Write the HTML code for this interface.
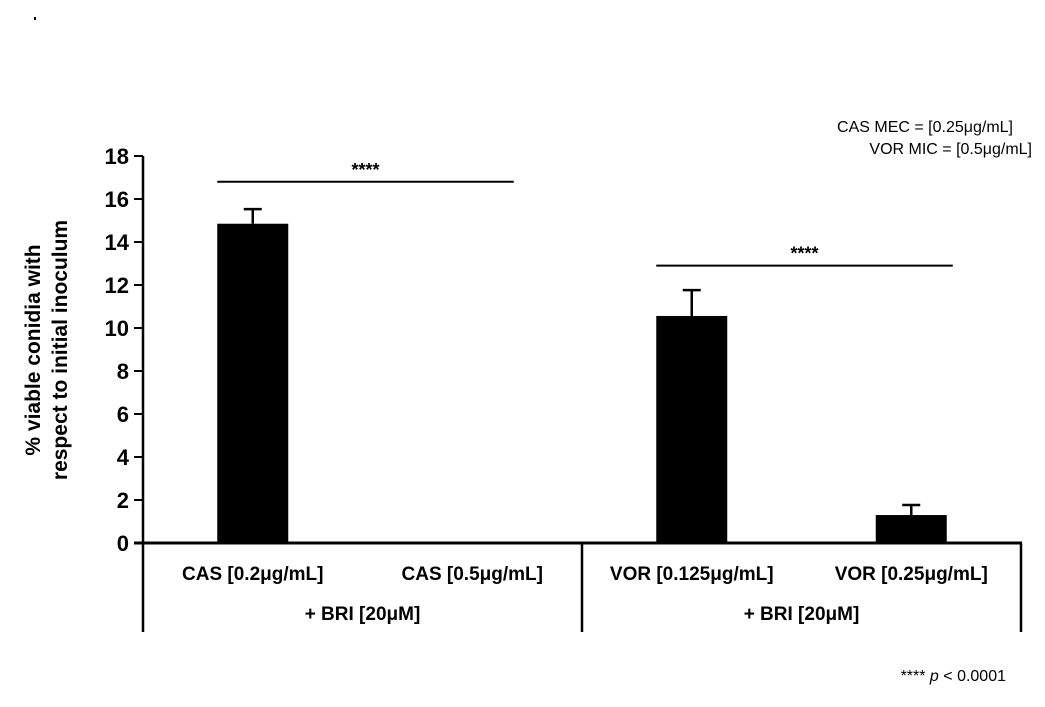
<!DOCTYPE html>
<html><head><meta charset="utf-8"><style>
body{margin:0;background:#fff;}
svg text{font-family:"Liberation Sans",Arial,sans-serif;}
</style></head><body>
<svg id="chart" width="1045" height="702" viewBox="0 0 1045 702" xmlns="http://www.w3.org/2000/svg">
<rect x="34" y="17" width="2" height="3" fill="#000"/>
<g id="axes"></g>
<g id="bars"></g>
<text x="-350" y="40" transform="rotate(-90)" text-anchor="middle" font-size="21" font-weight="bold"><tspan x="-350" dy="0">% viable conidia with</tspan><tspan x="-350" dy="27">respect to initial inoculum</tspan></text>
<text x="1013" y="132" text-anchor="end" font-size="16">CAS MEC = [0.25μg/mL]</text>
<text x="1032" y="154" text-anchor="end" font-size="16">VOR MIC = [0.5μg/mL]</text>
<text x="1006" y="681" text-anchor="end" font-size="16">**** <tspan font-style="italic">p</tspan> &lt; 0.0001</text>
</svg>
<script>
const categories=["CAS [0.2μg/mL]","CAS [0.5μg/mL]","VOR [0.125μg/mL]","VOR [0.25μg/mL]"];
const values=[14.85,0,10.56,1.3];
const errors=[0.68,0,1.2,0.47];
const groups=["+ BRI [20μM]","+ BRI [20μM]"];
const yTicks=[0,2,4,6,8,10,12,14,16,18];
const sigPairs=[[0,1],[2,3]];
const sigY=[16.8,12.9];
const NS="http://www.w3.org/2000/svg";
const x0=143,x1=1021,y0=543,yTop=156,yMax=18;
const slot=(x1-x0)/categories.length;
const bw=71;
function y(v){return y0-(v/yMax)*(y0-yTop);}
function cx(i){return x0+slot*(i+0.5);}
function mk(parent,tag,attrs,name){const e=document.createElementNS(NS,tag);for(const k in attrs)e.setAttribute(k,attrs[k]);


document.getElementById(parent).appendChild(e);return e;}
mk('axes','line',{x1:x0,x2:x0,y1:y(yMax),y2:632,stroke:'#000','stroke-width':2.5},'y-axis-line');
mk('axes','line',{x1:x0-9,x2:x1+1,y1:y0,y2:y0,stroke:'#000','stroke-width':3},'x-axis-line');
mk('axes','line',{x1:(x0+x1)/2,x2:(x0+x1)/2,y1:y0,y2:632,stroke:'#000','stroke-width':2.5},'group-divider');
mk('axes','line',{x1:x1,x2:x1,y1:y0,y2:632,stroke:'#000','stroke-width':2.5},'right-divider');
yTicks.forEach(t=>{
 mk('axes','line',{x1:x0-9,x2:x0,y1:y(t),y2:y(t),stroke:'#000','stroke-width':2},'y-tick');
 const tx=mk('axes','text',{x:x0-14,y:y(t)+8,'text-anchor':'end','font-size':22,'font-weight':'bold'},'y-tick-label');tx.textContent=t;
});
categories.forEach((c,i)=>{
 const t=mk('axes','text',{x:cx(i),y:580,'text-anchor':'middle','font-size':19,'font-weight':'bold'},'category-label');t.textContent=c;
 if(values[i]>0){
  mk('bars','rect',{x:cx(i)-bw/2,y:y(values[i]),width:bw,height:y0-y(values[i]),fill:'#000'},'bar');
  const e=values[i]+errors[i];
  mk('bars','line',{x1:cx(i),x2:cx(i),y1:y(values[i]),y2:y(e),stroke:'#000','stroke-width':2.5},'error-bar');
  mk('bars','line',{x1:cx(i)-9,x2:cx(i)+9,y1:y(e),y2:y(e),stroke:'#000','stroke-width':2.5},'error-cap');
 }
});
groups.forEach((g,i)=>{
 const t=mk('axes','text',{x:cx(i*2)+slot/2,y:620,'text-anchor':'middle','font-size':19,'font-weight':'bold'},'group-label');t.textContent=g;
});
sigPairs.forEach((p,i)=>{
 const a=cx(p[0])-bw/2,b=cx(p[1])+bw/2+6;
 mk('axes','line',{x1:a,x2:b,y1:y(sigY[i]),y2:y(sigY[i]),stroke:'#000','stroke-width':2},'significance-line');
 const t=mk('axes','text',{x:(a+b)/2,y:y(sigY[i])-6,'text-anchor':'middle','font-size':18,'font-weight':'bold'},'significance-stars');t.textContent='****';
});
</script>
</body></html>
